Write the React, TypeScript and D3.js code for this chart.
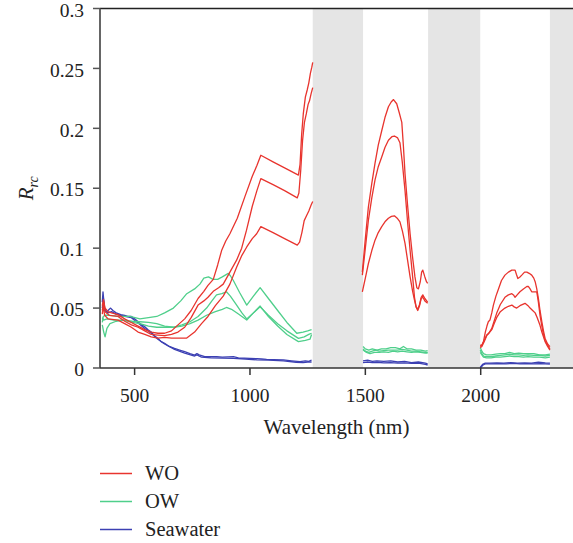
import React from "react";
import * as d3 from "d3";

type Pt = [number, number];

// ---------- data (wavelength nm, Rrc) ----------
const WO_1: Pt[][] = [
  [[360,0.052],[365,0.057],[372,0.050],[385,0.047],[400,0.046],[428,0.0445],[457,0.041],[486,0.038],[515,0.035],[544,0.032],[572,0.030],[601,0.029],[630,0.029],[660,0.031],[688,0.036],[717,0.041],[745,0.048],[775,0.058],[800,0.064],[818,0.069],[841,0.074],[860,0.086],[877,0.098],[895,0.106],[913,0.112],[945,0.125],[978,0.143],[1010,0.160],[1030,0.169],[1047,0.1775],[1100,0.172],[1150,0.167],[1210,0.161],[1217,0.170],[1224,0.195],[1231,0.212],[1240,0.226],[1248,0.232],[1255,0.238],[1262,0.246],[1268,0.251],[1272,0.255]],
  [[1487,0.080],[1500,0.108],[1513,0.134],[1528,0.154],[1542,0.171],[1556,0.186],[1571,0.198],[1585,0.209],[1600,0.218],[1612,0.222],[1622,0.224],[1636,0.2205],[1647,0.213],[1658,0.205],[1665,0.185],[1672,0.162],[1683,0.136],[1694,0.112],[1705,0.092],[1715,0.076],[1723,0.067],[1730,0.066],[1738,0.072],[1744,0.080],[1749,0.0817],[1758,0.076],[1765,0.072],[1770,0.0706]],
  [[1998,0.018],[2005,0.019],[2012,0.022],[2020,0.030],[2027,0.035],[2033,0.0386],[2040,0.040],[2048,0.046],[2055,0.0525],[2066,0.060],[2077,0.066],[2090,0.073],[2105,0.0775],[2120,0.080],[2135,0.0817],[2149,0.0817],[2155,0.078],[2161,0.0747],[2170,0.076],[2178,0.0775],[2190,0.080],[2200,0.080],[2210,0.079],[2221,0.0775],[2230,0.075],[2236,0.072],[2243,0.066],[2250,0.058],[2257,0.048],[2265,0.0386],[2272,0.031],[2279,0.0247],[2290,0.020],[2300,0.0178]],
];
const WO_2: Pt[][] = [
  [[360,0.048],[366,0.055],[372,0.047],[390,0.044],[428,0.043],[457,0.039],[486,0.036],[515,0.034],[544,0.031],[572,0.028],[601,0.0275],[630,0.027],[660,0.028],[688,0.030],[717,0.034],[745,0.042],[775,0.0525],[800,0.056],[818,0.059],[841,0.064],[864,0.067],[884,0.070],[913,0.080],[942,0.090],[964,0.100],[985,0.115],[1010,0.135],[1030,0.148],[1047,0.158],[1100,0.153],[1150,0.148],[1205,0.142],[1212,0.146],[1220,0.165],[1228,0.190],[1236,0.205],[1244,0.212],[1252,0.220],[1258,0.223],[1265,0.229],[1272,0.234]],
  [[1487,0.0775],[1500,0.100],[1513,0.123],[1528,0.142],[1542,0.157],[1556,0.168],[1571,0.176],[1585,0.184],[1600,0.190],[1615,0.193],[1626,0.1936],[1640,0.192],[1650,0.188],[1660,0.172],[1672,0.148],[1683,0.122],[1694,0.098],[1705,0.076],[1713,0.059],[1720,0.051],[1727,0.048],[1735,0.052],[1742,0.058],[1749,0.059],[1758,0.056],[1770,0.054]],
  [[1998,0.019],[2005,0.019],[2015,0.023],[2026,0.0275],[2035,0.029],[2048,0.033],[2058,0.039],[2069,0.0456],[2085,0.053],[2105,0.059],[2120,0.061],[2135,0.062],[2142,0.061],[2149,0.059],[2158,0.061],[2170,0.0636],[2185,0.066],[2200,0.068],[2207,0.068],[2214,0.066],[2221,0.0636],[2232,0.0636],[2243,0.0636],[2250,0.055],[2257,0.044],[2265,0.035],[2272,0.028],[2279,0.023],[2290,0.019],[2300,0.016]],
];
const WO_3: Pt[][] = [
  [[360,0.045],[364,0.052],[370,0.044],[385,0.041],[428,0.040],[457,0.037],[486,0.034],[515,0.030],[544,0.028],[572,0.026],[601,0.025],[630,0.0255],[660,0.025],[690,0.025],[726,0.025],[760,0.030],[790,0.037],[818,0.043],[850,0.052],[884,0.060],[913,0.070],[942,0.084],[965,0.094],[986,0.101],[1010,0.108],[1029,0.112],[1047,0.118],[1100,0.113],[1150,0.108],[1205,0.1025],[1215,0.105],[1225,0.113],[1235,0.123],[1245,0.127],[1255,0.131],[1265,0.136],[1272,0.139]],
  [[1487,0.0636],[1500,0.075],[1513,0.087],[1528,0.098],[1542,0.1067],[1556,0.113],[1571,0.118],[1585,0.122],[1600,0.125],[1613,0.1265],[1626,0.127],[1638,0.125],[1650,0.122],[1661,0.114],[1672,0.104],[1683,0.090],[1694,0.076],[1705,0.064],[1713,0.0567],[1720,0.051],[1727,0.049],[1735,0.053],[1742,0.059],[1749,0.061],[1758,0.058],[1770,0.055]],
  [[1998,0.017],[2005,0.018],[2015,0.022],[2026,0.027],[2035,0.029],[2048,0.032],[2058,0.037],[2069,0.042],[2085,0.047],[2105,0.050],[2120,0.0515],[2135,0.0525],[2145,0.051],[2156,0.050],[2170,0.052],[2192,0.054],[2205,0.052],[2214,0.050],[2225,0.048],[2236,0.046],[2245,0.042],[2257,0.0356],[2265,0.030],[2272,0.026],[2279,0.022],[2290,0.018],[2300,0.015]],
];

const OW_1: Pt[][] = [
  [[360,0.038],[364,0.043],[372,0.044],[393,0.044],[430,0.043],[480,0.043],[523,0.041],[560,0.042],[596,0.043],[630,0.046],[668,0.050],[700,0.056],[726,0.062],[760,0.066],[783,0.070],[800,0.075],[820,0.076],[840,0.074],[860,0.074],[880,0.076],[906,0.079],[915,0.077],[928,0.073],[955,0.063],[986,0.0525],[1015,0.060],[1044,0.067],[1080,0.058],[1120,0.048],[1160,0.038],[1203,0.029],[1230,0.030],[1250,0.031],[1267,0.032]],
  [[1490,0.018],[1500,0.016],[1515,0.015],[1530,0.016],[1550,0.015],[1570,0.016],[1590,0.016],[1610,0.017],[1630,0.017],[1650,0.016],[1665,0.018],[1680,0.016],[1700,0.016],[1720,0.015],[1740,0.015],[1760,0.014],[1770,0.0145]],
  [[1998,0.017],[2005,0.014],[2012,0.012],[2025,0.011],[2045,0.011],[2065,0.0115],[2085,0.012],[2105,0.012],[2125,0.013],[2145,0.012],[2165,0.0125],[2185,0.012],[2205,0.012],[2230,0.012],[2255,0.011],[2280,0.011],[2300,0.0115]],
];
const OW_2: Pt[][] = [
  [[360,0.042],[366,0.040],[380,0.041],[410,0.040],[451,0.040],[490,0.038],[523,0.037],[560,0.035],[596,0.034],[630,0.034],[668,0.034],[705,0.036],[740,0.0386],[775,0.043],[812,0.050],[835,0.056],[855,0.061],[878,0.062],[898,0.0636],[915,0.060],[940,0.053],[965,0.046],[986,0.041],[1015,0.046],[1044,0.051],[1080,0.044],[1120,0.037],[1160,0.031],[1210,0.0247],[1235,0.026],[1255,0.028],[1267,0.029]],
  [[1490,0.016],[1500,0.014],[1515,0.013],[1530,0.014],[1545,0.015],[1560,0.014],[1580,0.0145],[1600,0.015],[1620,0.015],[1640,0.015],[1660,0.0155],[1680,0.015],[1700,0.014],[1720,0.014],[1740,0.0135],[1760,0.013],[1770,0.013]],
  [[1998,0.015],[2005,0.012],[2012,0.010],[2025,0.0095],[2045,0.0095],[2065,0.010],[2085,0.0105],[2105,0.011],[2125,0.0115],[2145,0.011],[2165,0.011],[2185,0.0105],[2205,0.011],[2230,0.0105],[2255,0.0105],[2280,0.010],[2300,0.0105]],
];
const OW_3: Pt[][] = [
  [[360,0.036],[366,0.030],[372,0.026],[380,0.033],[393,0.037],[420,0.039],[451,0.040],[490,0.039],[523,0.0386],[560,0.038],[596,0.037],[630,0.035],[668,0.034],[705,0.035],[740,0.037],[775,0.040],[812,0.044],[850,0.047],[880,0.049],[898,0.0505],[920,0.049],[950,0.045],[986,0.040],[1015,0.046],[1044,0.0517],[1080,0.043],[1120,0.035],[1160,0.028],[1210,0.022],[1240,0.023],[1260,0.024],[1267,0.028]],
  [[1490,0.015],[1505,0.013],[1520,0.012],[1540,0.013],[1560,0.013],[1580,0.0135],[1600,0.013],[1620,0.014],[1640,0.0135],[1660,0.014],[1680,0.0135],[1700,0.013],[1720,0.0135],[1740,0.013],[1760,0.0125],[1770,0.0125]],
  [[1998,0.013],[2005,0.011],[2012,0.009],[2025,0.0085],[2045,0.0085],[2065,0.009],[2085,0.009],[2105,0.0095],[2125,0.010],[2145,0.0095],[2165,0.0095],[2185,0.009],[2205,0.0095],[2230,0.009],[2255,0.009],[2280,0.0085],[2300,0.009]],
];

const SW_1: Pt[][] = [
  [[360,0.055],[363,0.0636],[367,0.055],[370,0.050],[378,0.047],[385,0.048],[395,0.050],[406,0.048],[420,0.046],[440,0.0445],[457,0.044],[470,0.043],[486,0.043],[500,0.041],[515,0.0386],[530,0.036],[544,0.0345],[558,0.032],[572,0.030],[586,0.027],[601,0.0247],[615,0.022],[630,0.0206],[650,0.018],[673,0.0164],[695,0.015],[717,0.0136],[740,0.012],[760,0.0108],[770,0.012],[780,0.011],[804,0.0094],[830,0.0095],[856,0.0094],[880,0.009],[905,0.0092],[928,0.0094],[950,0.0085],[975,0.0082],[1000,0.008],[1030,0.0078],[1050,0.0075],[1072,0.0072],[1100,0.007],[1145,0.0067],[1180,0.006],[1217,0.0053],[1240,0.006],[1255,0.0055],[1267,0.0067]],
  [[1490,0.006],[1510,0.0065],[1530,0.0055],[1550,0.006],[1580,0.0055],[1610,0.006],[1640,0.005],[1670,0.0055],[1700,0.0045],[1730,0.005],[1760,0.004],[1770,0.0035]],
  [[1998,0.0005],[2008,0.003],[2018,0.004],[2040,0.004],[2070,0.0042],[2100,0.004],[2130,0.0045],[2160,0.004],[2190,0.0042],[2220,0.004],[2250,0.0048],[2280,0.0042],[2300,0.004]],
];
const SW_2: Pt[][] = [
  [[360,0.050],[365,0.058],[370,0.048],[385,0.046],[400,0.047],[420,0.045],[457,0.043],[486,0.042],[515,0.0375],[544,0.033],[572,0.029],[601,0.024],[630,0.020],[673,0.0155],[717,0.0125],[760,0.010],[770,0.011],[790,0.009],[830,0.0085],[880,0.0082],[928,0.008],[980,0.0075],[1030,0.0068],[1080,0.0065],[1145,0.006],[1200,0.0048],[1230,0.0045],[1250,0.005],[1267,0.005]],
  [[1490,0.0045],[1510,0.005],[1530,0.0045],[1550,0.0048],[1580,0.0042],[1610,0.0045],[1640,0.004],[1670,0.0042],[1700,0.0038],[1730,0.004],[1760,0.003],[1770,0.0025]],
  [[1998,0.0],[2010,0.0025],[2020,0.0035],[2050,0.0035],[2080,0.0037],[2110,0.0035],[2140,0.0038],[2170,0.0035],[2200,0.0036],[2230,0.0035],[2260,0.0037],[2300,0.0033]],
];

const BANDS: [number, number][] = [[1272, 1490], [1772, 1998], [2300, 2400]];
const X_TICKS = [500, 1000, 1500, 2000];
const Y_TICKS = [0, 0.05, 0.1, 0.15, 0.2, 0.25, 0.3];
const Y_TICK_LABELS = ["0", "0.05", "0.1", "0.15", "0.2", "0.25", "0.3"];
const LEGEND_NAMES = ["WO", "OW", "Seawater"];

const RED = "#e8342e";
const GREEN = "#4fcf8b";
const BLUE = "#3c40b3";

const SERIES = [
  { name: LEGEND_NAMES[0], color: RED, lines: [WO_1, WO_2, WO_3] },
  { name: LEGEND_NAMES[1], color: GREEN, lines: [OW_1, OW_2, OW_3] },
  { name: LEGEND_NAMES[2], color: BLUE, lines: [SW_1, SW_2] },
];

const W = 573, H = 543;
const M = { left: 100, right: 573, top: 8.5, bottom: 368 };
const FONT = "'Liberation Serif', 'Times New Roman', serif";

export default function App() {
  const x = d3.scaleLinear().domain([350, 2400]).range([M.left, M.right]);
  const y = d3.scaleLinear().domain([0, 0.3]).range([M.bottom, M.top]);
  const line = d3.line<Pt>().x(d => x(d[0])).y(d => y(d[1]));

  return (
    <svg width={W} height={H} style={{ position: "absolute", left: 0, top: 0, background: "#fff" }}
      fontFamily={FONT}>
      {BANDS.map((b, i) => (
        <rect key={i} x={x(b[0])} y={M.top} width={Math.min(x(b[1]), M.right) - x(b[0])}
          height={M.bottom - M.top} fill="#e5e5e5" />
      ))}
      {SERIES.slice().reverse().map(s =>
        s.lines.map((segs, li) =>
          segs.map((seg, si) => (
            <path key={s.name + li + "-" + si} d={line(seg) || ""} fill="none"
              stroke={s.color} strokeWidth={1.3} strokeLinejoin="round" />
          ))
        )
      )}
      {/* frame */}
      <line x1={M.left} x2={M.right} y1={M.top} y2={M.top} stroke="#222" strokeWidth={1.5} />
      <line x1={M.left} x2={M.left} y1={M.top} y2={M.bottom} stroke="#555" strokeWidth={1.8} />
      <line x1={M.left} x2={M.right} y1={M.bottom} y2={M.bottom} stroke="#333" strokeWidth={1.5} />
      {/* y ticks */}
      {Y_TICKS.map((t, i) => (
        <g key={"y" + i}>
          <line x1={M.left - 7} x2={M.left} y1={y(t)} y2={y(t)} stroke="#555" strokeWidth={1.5} />
          <text x={M.left - 16} y={y(t)} dy="0.42em" textAnchor="end" fontSize={19.5} fill="#222">
            {Y_TICK_LABELS[i]}
          </text>
        </g>
      ))}
      {/* x ticks */}
      {X_TICKS.map((t, i) => (
        <g key={"x" + i}>
          <line x1={x(t)} x2={x(t)} y1={M.bottom} y2={M.bottom + 7} stroke="#333" strokeWidth={1.5} />
          <text x={x(t)} y={402} textAnchor="middle" fontSize={19.5} fill="#222">{t}</text>
        </g>
      ))}
      <text x={(M.left + M.right) / 2} y={434} textAnchor="middle" fontSize={21} fill="#222">
        Wavelength (nm)
      </text>
      <text transform={`translate(33,${(M.top + M.bottom) / 2}) rotate(-90)`} textAnchor="middle"
        fontSize={21} fill="#222" fontStyle="italic">
        <tspan>R</tspan>
        <tspan fontSize={14} dy={5}>rc</tspan>
      </text>
      {/* legend */}
      {SERIES.map((s, i) => {
        const ly = 473.5 + i * 28;
        return (
          <g key={"lg" + i}>
            <line x1={100} x2={132} y1={ly} y2={ly} stroke={s.color} strokeWidth={1.5} />
            <text x={145} y={ly} dy="0.34em" fontSize={20.5} fill="#222">{s.name}</text>
          </g>
        );
      })}
    </svg>
  );
}
